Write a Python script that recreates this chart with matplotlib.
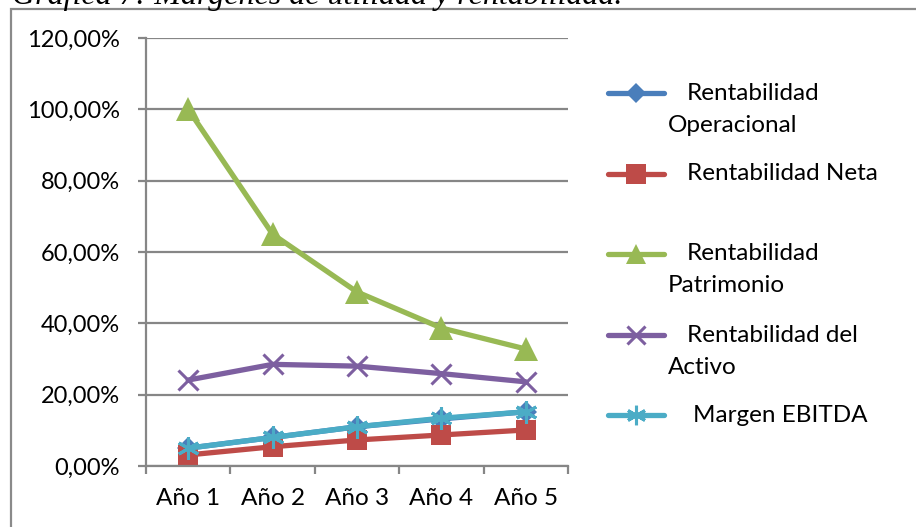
import matplotlib
matplotlib.use("Agg")
import matplotlib.pyplot as plt
from matplotlib.lines import Line2D
from matplotlib.patches import Rectangle
from matplotlib.ticker import FixedLocator, FuncFormatter

# Data
categories = ["Año 1", "Año 2", "Año 3", "Año 4", "Año 5"]
rent_operacional = [5.0, 8.0, 11.0, 13.2, 15.2]
rent_neta = [3.1, 5.4, 7.3, 8.7, 10.1]
rent_patrimonio = [100.0, 65.0, 48.8, 38.7, 32.8]
rent_activo = [24.1, 28.5, 28.0, 25.9, 23.6]
margen_ebitda = [5.0, 8.0, 11.0, 13.4, 15.2]

series_labels = ["Rentabilidad\nOperacional", "Rentabilidad Neta",
                 "Rentabilidad\nPatrimonio", "Rentabilidad del\nActivo",
                 "Margen EBITDA"]
y_ticks = [0, 20, 40, 60, 80, 100, 120]
caption = "Gráfica 7: Márgenes de utilidad y rentabilidad."

W, H = 916, 527
fig = plt.figure(figsize=(W / 100, H / 100), dpi=100)
FONT = "Lato"
GRID = "#868686"

def fx(px):
    return px / W

def fy(py):
    return 1 - py / H

# Chart frame and caption above it
fig.add_artist(Rectangle((fx(11), fy(600)), fx(1000), (600 - 9) / H,
                         transform=fig.transFigure, fill=False,
                         edgecolor="#8a8a8a", linewidth=1.6))
fig.text(fx(12), fy(4), caption, fontfamily="Liberation Serif",
         fontstyle="italic", fontsize=23, va="baseline", ha="left",
         color="black")

ax = fig.add_axes([fx(146), fy(466), fx(568) - fx(146), (466 - 38) / H])

x = list(range(len(categories)))
styles = [
    (rent_operacional, "#4A7EBB", "D", 11, 0),
    (rent_neta, "#BE4B48", "s", 15, 0),
    (rent_patrimonio, "#98B954", "^", 17, 0),
    (rent_activo, "#7D5FA0", "x", 15, 2.2),
    (margen_ebitda, "#4BACC6", (6, 2, 0), 16, 2.2),
]
handles = []
for vals, col, mk, ms, mew in styles:
    kw = dict(color=col, linewidth=3.8, marker=mk, markersize=ms,
              markerfacecolor=col, markeredgecolor=col, solid_capstyle="round",
              markeredgewidth=mew)
    ax.plot(x, vals, **kw)
    handles.append(kw)

ax.set_xlim(-0.5, len(categories) - 0.5)
ax.set_ylim(0, 120)
ax.yaxis.set_major_locator(FixedLocator(y_ticks))
ax.yaxis.set_major_formatter(FuncFormatter(lambda v, p: f"{v:.2f}%".replace(".", ",")))
ax.grid(axis="y", color=GRID, linewidth=1.6)
ax.set_axisbelow(True)

# Category boundary ticks, labels centred between them
ax.set_xticks([i - 0.5 for i in range(len(categories) + 1)])
ax.set_xticklabels([])
ax.set_xticks(x, minor=True)
ax.set_xticklabels(categories, minor=True)
ax.tick_params(axis="x", which="major", length=6, width=1.6, color=GRID)
ax.tick_params(axis="x", which="minor", length=0, pad=16)
ax.tick_params(axis="y", length=6, width=1.6, color=GRID, pad=13)
for lbl in ax.get_xticklabels(minor=True):
    lbl.set_fontfamily(FONT)
    lbl.set_fontsize(17.5)
for lbl in ax.get_yticklabels():
    lbl.set_fontfamily(FONT)
    lbl.set_fontsize(17)

for s in ["top", "right"]:
    ax.spines[s].set_visible(False)
for s in ["left", "bottom"]:
    ax.spines[s].set_color(GRID)
    ax.spines[s].set_linewidth(1.6)

# Legend drawn on the right side
legend_y = [93, 174, 254, 335, 415]
legend_ms = [10, 14, 14, 13, 14]
for kw, label, ly, lms in zip(handles, series_labels, legend_y, legend_ms):
    ln = Line2D([fx(608), fx(664)], [fy(ly), fy(ly)], transform=fig.transFigure,
                color=kw["color"], linewidth=3.8, solid_capstyle="round")
    fig.add_artist(ln)
    mk = Line2D([fx(636)], [fy(ly)], transform=fig.transFigure,
                marker=kw["marker"], markersize=lms,
                markerfacecolor=kw["color"], markeredgecolor=kw["color"],
                markeredgewidth=kw["markeredgewidth"], linestyle="none")
    fig.add_artist(mk)
    lines = label.split("\n")
    first_x = 693 if label.startswith("Margen") else 687
    fig.text(fx(first_x), fy(ly), lines[0], fontfamily=FONT, fontsize=17.5,
             va="center", ha="left")
    if len(lines) > 1:
        fig.text(fx(668), fy(ly + 32), lines[1], fontfamily=FONT, fontsize=17.5,
                 va="center", ha="left")

fig.savefig("out.png", dpi=100)
